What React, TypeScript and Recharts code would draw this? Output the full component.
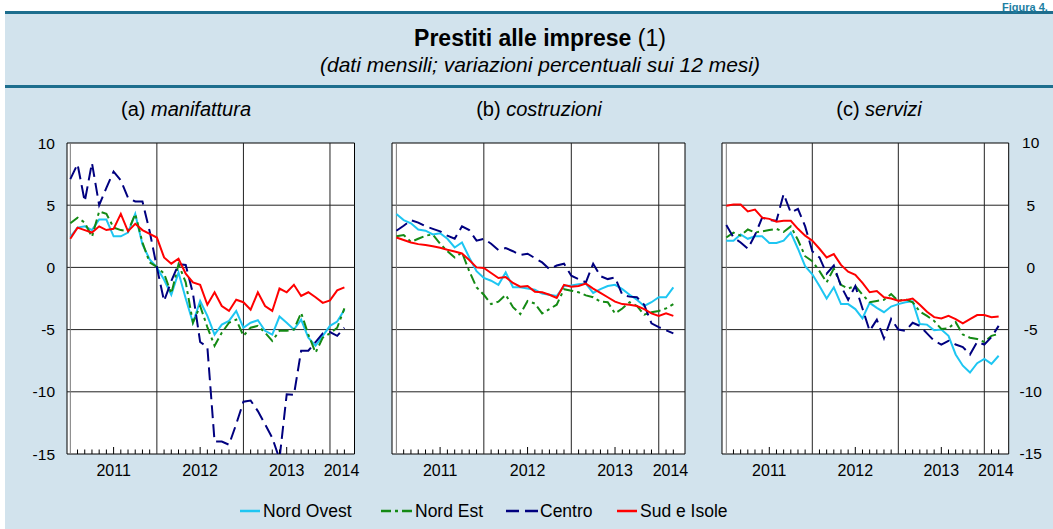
import React from 'react';
import { LineChart, Line, XAxis, YAxis, ReferenceLine, ReferenceArea } from 'recharts';

const FONT = "'Liberation Sans', Arial, Helvetica, sans-serif";

// months (end of month), Dec 2010 .. Feb 2014
const months = [
  'dic-10',
  'gen-11', 'feb-11', 'mar-11', 'apr-11', 'mag-11', 'giu-11', 'lug-11', 'ago-11', 'set-11', 'ott-11', 'nov-11', 'dic-11',
  'gen-12', 'feb-12', 'mar-12', 'apr-12', 'mag-12', 'giu-12', 'lug-12', 'ago-12', 'set-12', 'ott-12', 'nov-12', 'dic-12',
  'gen-13', 'feb-13', 'mar-13', 'apr-13', 'mag-13', 'giu-13', 'lug-13', 'ago-13', 'set-13', 'ott-13', 'nov-13', 'dic-13',
  'gen-14', 'feb-14',
];

const yearLabels = ['2011', '2012', '2013', '2014'];
const yearLabelPos = [6, 18, 30, 37.6];
const yearBoundaries = [0, 12, 24, 36];
const yTicks = [-15, -10, -5, 0, 5, 10];
const yGrid = [5, 0, -5, -10];

// (a) manifattura
const manNO = [2.45, 3.2, 3.3, 3.0, 3.85, 3.85, 2.5, 2.5, 2.8, 4.3, 1.85, 0.65, 0.0, -1.0, -2.2, -0.4, -2.5, -4.45, -2.7, -3.9, -5.4, -4.6, -4.3, -3.5, -4.85, -4.45, -4.25, -5.1, -5.4, -3.95, -4.45, -5.0, -4.2, -5.65, -6.3, -5.5, -4.7, -4.35, -3.4];
const manNE = [3.55, 4.0, 3.6, 2.45, 4.5, 4.3, 3.2, 3.0, 2.9, 4.3, 2.0, 0.4, 0.05, -0.5, -2.1, 0.25, -1.2, -4.45, -3.1, -4.8, -6.3, -5.25, -4.45, -4.2, -5.5, -4.85, -4.7, -5.25, -5.9, -5.1, -5.1, -5.0, -3.65, -5.4, -6.85, -5.65, -5.3, -4.85, -3.3];
const manCE = [7.1, 8.3, 5.3, 8.4, 5.0, 6.4, 7.7, 7.0, 5.6, 5.3, 5.3, 2.9, 0.0, -2.7, -1.1, 0.25, 0.2, -2.1, -6.0, -6.4, -14.0, -14.0, -14.25, -12.6, -10.8, -10.7, -11.55, -12.6, -13.7, -15.4, -10.2, -10.25, -6.7, -6.7, -6.0, -5.3, -5.2, -5.5, -4.85];
const manSI = [2.3, 3.2, 3.0, 2.8, 3.3, 3.0, 3.1, 4.3, 2.9, 3.5, 3.0, 2.7, 2.4, 0.8, 0.3, 0.7, -0.5, -1.2, -1.4, -3.0, -2.0, -3.1, -3.5, -2.6, -2.8, -3.4, -2.0, -3.1, -3.5, -1.7, -2.0, -1.4, -2.3, -2.0, -2.4, -2.85, -2.65, -1.85, -1.6];

// (b) costruzioni
const cosNO = [4.3, 3.8, 3.55, 3.05, 2.95, 2.65, 2.75, 2.3, 1.6, 2.0, 0.8, -0.3, -0.85, -1.07, -1.4, -0.4, -1.6, -1.6, -1.7, -1.8, -2.1, -2.2, -2.3, -1.5, -1.45, -1.35, -1.3, -2.05, -1.75, -1.5, -1.4, -1.75, -2.2, -2.6, -3.1, -2.8, -2.4, -2.4, -1.6];
const cosNE = [2.5, 2.6, 2.05, 2.3, 2.55, 2.65, 1.9, 1.3, 0.8, 1.2, -0.3, -1.6, -2.2, -2.95, -2.75, -2.2, -3.2, -3.75, -2.7, -2.9, -3.7, -3.35, -3.0, -1.75, -1.87, -2.0, -2.25, -2.4, -2.75, -2.8, -3.7, -3.3, -2.8, -3.1, -3.8, -3.6, -3.5, -3.3, -2.95];
const cosCE = [2.95, 3.35, 3.8, 3.6, 3.3, 3.1, 2.9, 2.55, 2.3, 3.3, 3.0, 2.15, 2.3, 1.9, 1.4, 1.55, 1.3, 1.0, 1.1, 0.75, 0.4, -0.13, 0.15, 0.3, -0.67, -0.94, -1.2, 0.3, -0.7, -0.94, -0.8, -2.2, -2.35, -2.4, -3.0, -4.5, -4.8, -5.05, -5.3];
const cosSI = [2.4, 2.2, 2.0, 1.87, 1.8, 1.7, 1.58, 1.42, 1.28, 1.12, 0.6, 0.0, -0.05, -0.45, -0.85, -0.78, -1.25, -1.55, -1.5, -1.95, -2.0, -2.2, -2.45, -1.4, -1.55, -1.5, -1.3, -1.7, -2.05, -2.4, -2.75, -2.95, -3.0, -3.1, -3.35, -3.7, -3.9, -3.7, -3.9];

// (c) servizi
const serNO = [2.15, 2.15, 2.65, 2.3, 2.5, 2.5, 1.96, 1.96, 2.15, 2.8, 1.5, 0.1, -0.55, -1.5, -2.5, -1.6, -2.95, -2.95, -3.35, -4.1, -2.85, -3.25, -3.6, -3.15, -2.95, -2.8, -2.73, -4.55, -4.6, -5.05, -5.0, -5.5, -7.0, -7.9, -8.45, -7.7, -7.35, -7.75, -7.1];
const serNE = [2.4, 2.8, 2.55, 3.05, 2.8, 2.9, 3.0, 3.1, 2.85, 3.3, 2.2, 0.9, 0.5, -0.3, -1.2, -0.1, -1.4, -1.7, -1.5, -2.2, -2.8, -2.7, -2.6, -2.15, -2.7, -2.55, -2.8, -3.55, -3.9, -4.3, -4.95, -4.9, -4.4, -5.4, -5.65, -5.75, -6.0, -5.5, -5.35];
const serCE = [3.4, 2.4, 2.0, 1.5, 2.6, 4.0, 3.8, 3.75, 5.9, 4.4, 4.7, 3.3, 1.3, 0.8, -0.5, 0.15, -1.5, -2.6, -1.5, -3.3, -5.1, -4.2, -5.7, -4.15, -5.0, -5.1, -4.45, -4.7, -5.3, -5.9, -6.2, -5.9, -6.2, -6.4, -7.0, -6.0, -6.2, -5.6, -4.7];
const serSI = [4.95, 5.05, 5.05, 4.5, 4.65, 4.0, 3.9, 3.67, 3.75, 3.75, 3.1, 2.55, 2.15, 1.5, 0.8, 1.07, 0.2, -0.35, -0.6, -1.25, -2.0, -1.9, -2.4, -2.5, -2.68, -2.63, -2.5, -3.0, -3.57, -4.0, -4.1, -3.9, -4.15, -4.5, -4.15, -3.83, -3.83, -4.0, -3.94];

const seriesNames = ['Nord Ovest', 'Nord Est', 'Centro', 'Sud e Isole'];
const COL_NO = '#1EC6F2';
const COL_NE = '#148A14';
const COL_CE = '#00007F';
const COL_SI = '#FF0000';
const DASH_NE = '10 4 3 4';
const DASH_CE = '13 6';

const build = (no: number[], ne: number[], ce: number[], si: number[]) =>
  months.map((m, i) => ({ m, x: i, no: no[i], ne: ne[i], ce: ce[i], si: si[i] }));

const minorTicks = months.map((_, i) => i).filter((i) => i > 0 && i % 12 !== 0);
const xTicks = [...minorTicks, 37.6];

const makeXTick = () => (props: any) => {
  const { x, y, payload } = props;
  const v = payload.value;
  const isInt = Number.isInteger(v);
  const yi = yearLabelPos.indexOf(v);
  const len = [6, 18, 30].includes(v) ? 7 : 4.5;
  return (
    <g>
      {isInt && <line x1={x} x2={x} y1={y} y2={y - len} stroke="#000" strokeWidth={1} />}
      {yi >= 0 && (
        <text x={x} y={y + 22} textAnchor="middle" fontSize={16} fontFamily={FONT} fill="#000">
          {yearLabels[yi]}
        </text>
      )}
    </g>
  );
};

const rightYTick = (props: any) => {
  const { x, y, payload } = props;
  return (
    <text x={x} y={y + 5.5} textAnchor="middle" fontSize={15.5} fontFamily={FONT} fill="#000">
      {payload.value}
    </text>
  );
};

type PanelProps = {
  data: any[];
  width: number;
  height: number;
  left: number;
  top: number;
  xDomain: [number, number];
  yAxis: 'left' | 'right' | 'none';
  margin: { top: number; right: number; bottom: number; left: number };
};

const Panel = ({ data, width, height, left, top, xDomain, yAxis, margin }: PanelProps) => (
  <div style={{ position: 'absolute', left, top, width, height }}>
    <LineChart width={width} height={height} data={data} margin={margin}>
      <XAxis
        dataKey="x"
        type="number"
        domain={xDomain}
        allowDataOverflow
        ticks={xTicks}
        interval={0}
        tickSize={0}
        tickMargin={0}
        tickLine={false}
        axisLine={false}
        height={30}
        tick={makeXTick()}
      />
      {yAxis === 'left' && (
        <YAxis
          type="number"
          domain={[-15, 10]}
          allowDataOverflow
          ticks={yTicks}
          interval={0}
          width={57}
          tickSize={0}
          tickMargin={12}
          tickLine={false}
          axisLine={false}
          tick={{ fontSize: 15.5, fontFamily: FONT, fill: '#000' }}
        />
      )}
      {yAxis === 'right' && (
        <YAxis
          orientation="right"
          type="number"
          domain={[-15, 10]}
          allowDataOverflow
          ticks={yTicks}
          interval={0}
          width={44}
          tickSize={0}
          tickMargin={22}
          tickLine={false}
          axisLine={false}
          tick={rightYTick}
        />
      )}
      {yAxis === 'none' && (
        <YAxis type="number" domain={[-15, 10]} allowDataOverflow ticks={yTicks} hide width={0} />
      )}
      <ReferenceArea x1={xDomain[0]} x2={xDomain[1]} y1={-15} y2={10} fill="#FFFFFF" fillOpacity={1} stroke="none" ifOverflow="visible" />
      {yGrid.map((v) => (
        <ReferenceLine key={'h' + v} y={v} stroke="#222" strokeWidth={1} />
      ))}
      {yearBoundaries.map((v) => (
        <ReferenceLine key={'v' + v} x={v} stroke={v === 0 ? '#777' : '#222'} strokeWidth={1} />
      ))}
      <Line type="linear" dataKey="no" name={seriesNames[0]} stroke={COL_NO} strokeWidth={2} dot={false} isAnimationActive={false} />
      <Line type="linear" dataKey="ne" name={seriesNames[1]} stroke={COL_NE} strokeWidth={2} strokeDasharray={DASH_NE} dot={false} isAnimationActive={false} />
      <Line type="linear" dataKey="ce" name={seriesNames[2]} stroke={COL_CE} strokeWidth={2} strokeDasharray={DASH_CE} dot={false} isAnimationActive={false} />
      <Line type="linear" dataKey="si" name={seriesNames[3]} stroke={COL_SI} strokeWidth={2} dot={false} isAnimationActive={false} />
      <ReferenceArea x1={xDomain[0]} x2={xDomain[1]} y1={-15} y2={10} fill="none" stroke="#000" strokeWidth={1} ifOverflow="visible" />
    </LineChart>
  </div>
);

const dataMan = build(manNO, manNE, manCE, manSI);
const dataCos = build(cosNO, cosNE, cosCE, cosSI);
const dataSer = build(serNO, serNE, serCE, serSI);

const legendItems = [
  { name: seriesNames[0], color: COL_NO, dash: undefined as string | undefined, x1: 240, x2: 260, tx: 263 },
  { name: seriesNames[1], color: COL_NE, dash: DASH_NE, x1: 381, x2: 413, tx: 415 },
  { name: seriesNames[2], color: COL_CE, dash: DASH_CE, x1: 506, x2: 538, tx: 540 },
  { name: seriesNames[3], color: COL_SI, dash: undefined, x1: 617, x2: 637, tx: 640 },
];

export default function App() {
  return (
    <div style={{ position: 'absolute', left: 0, top: 0, width: 1053, height: 529, overflow: 'hidden', background: '#FFFFFF', fontFamily: FONT }}>
      <div style={{ position: 'absolute', left: 5, top: 13, width: 1100, height: 520, background: '#D2E3ED' }} />
      <div style={{ position: 'absolute', left: 5, top: 11, width: 1100, height: 3, background: '#1D6E8E' }} />
      <div style={{ position: 'absolute', left: 5, top: 85, width: 1100, height: 2.5, background: '#1D6E8E' }} />

      <Panel data={dataMan} width={350} height={356} left={10} top={128} xDomain={[-0.46, 39.4]} yAxis="left" margin={{ top: 15, right: 5.5, bottom: 0, left: 0 }} />
      <Panel data={dataCos} width={303} height={356} left={387.3} top={128} xDomain={[-0.6, 39.6]} yAxis="none" margin={{ top: 15, right: 5, bottom: 0, left: 5 }} />
      <Panel data={dataSer} width={335.7} height={356} left={717.3} top={128} xDomain={[-0.6, 39.4]} yAxis="right" margin={{ top: 15, right: 0, bottom: 0, left: 5 }} />

      <svg width={1053} height={529} style={{ position: 'absolute', left: 0, top: 0, pointerEvents: 'none' }}>
        <text x={1002} y={10.5} fontSize={11} fontWeight="bold" fontFamily={FONT} fill="#1D7FA3">Figura 4.</text>
        <text x={540} y={46} textAnchor="middle" fontSize={23} fontFamily={FONT} fill="#000">
          <tspan fontWeight="bold">Prestiti alle imprese</tspan>
          <tspan> (1)</tspan>
        </text>
        <text x={540} y={72} textAnchor="middle" fontSize={21} fontStyle="italic" fontFamily={FONT} fill="#000">
          (dati mensili; variazioni percentuali sui 12 mesi)
        </text>
        <text x={186} y={116} textAnchor="middle" fontSize={20} fontFamily={FONT} fill="#000">
          <tspan>(a) </tspan>
          <tspan fontStyle="italic">manifattura</tspan>
        </text>
        <text x={539} y={116} textAnchor="middle" fontSize={20} fontFamily={FONT} fill="#000">
          <tspan>(b) </tspan>
          <tspan fontStyle="italic">costruzioni</tspan>
        </text>
        <text x={879} y={116} textAnchor="middle" fontSize={20} fontFamily={FONT} fill="#000">
          <tspan>(c) </tspan>
          <tspan fontStyle="italic">servizi</tspan>
        </text>
        {legendItems.map((it) => (
          <g key={it.name}>
            <line x1={it.x1} x2={it.x2} y1={511} y2={511} stroke={it.color} strokeWidth={2.5} strokeDasharray={it.dash} />
            <text x={it.tx} y={517} fontSize={17.5} fontFamily={FONT} fill="#000">{it.name}</text>
          </g>
        ))}
      </svg>
    </div>
  );
}
